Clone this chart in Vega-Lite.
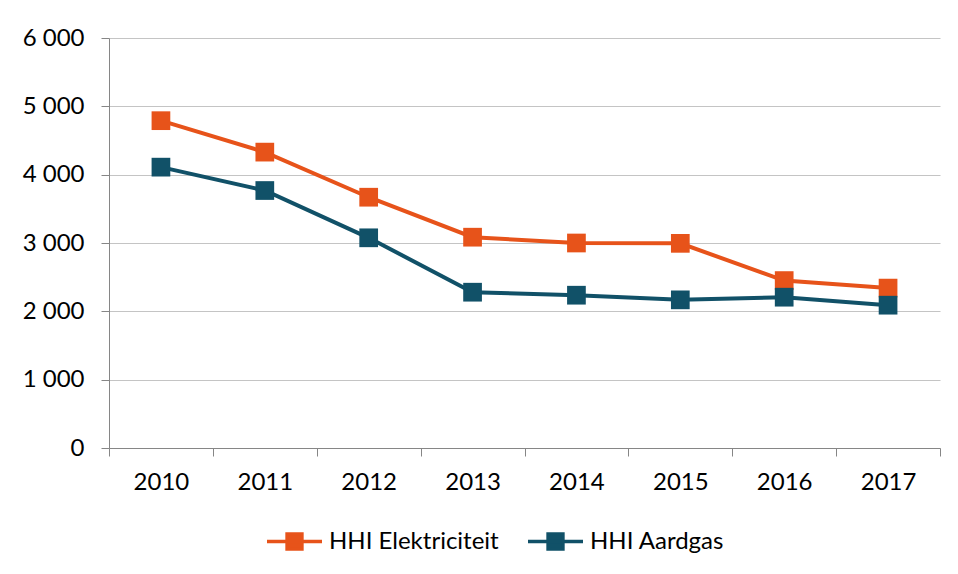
{
  "$schema": "https://vega.github.io/schema/vega-lite/v6.json",
  "autosize": {"type": "none"},
  "width": 831,
  "height": 410,
  "padding": {"left": 109, "top": 38, "right": 18, "bottom": 126},
  "background": "white",
  "config": {
    "font": "Lato",
    "view": {"stroke": null},
    "axis": {"labelFont": "Lato", "labelFontSize": 24, "labelColor": "#000000"},
    "legend": {"labelFont": "Lato", "labelFontSize": 24, "labelColor": "#000000"}
  },
  "data": {
    "values": [
      {"jaar": "2010", "reeks": "HHI Elektriciteit", "hhi": 4790},
      {"jaar": "2011", "reeks": "HHI Elektriciteit", "hhi": 4330},
      {"jaar": "2012", "reeks": "HHI Elektriciteit", "hhi": 3670},
      {"jaar": "2013", "reeks": "HHI Elektriciteit", "hhi": 3085},
      {"jaar": "2014", "reeks": "HHI Elektriciteit", "hhi": 3000},
      {"jaar": "2015", "reeks": "HHI Elektriciteit", "hhi": 2995},
      {"jaar": "2016", "reeks": "HHI Elektriciteit", "hhi": 2450},
      {"jaar": "2017", "reeks": "HHI Elektriciteit", "hhi": 2340},
      {"jaar": "2010", "reeks": "HHI Aardgas", "hhi": 4110},
      {"jaar": "2011", "reeks": "HHI Aardgas", "hhi": 3768},
      {"jaar": "2012", "reeks": "HHI Aardgas", "hhi": 3076},
      {"jaar": "2013", "reeks": "HHI Aardgas", "hhi": 2280},
      {"jaar": "2014", "reeks": "HHI Aardgas", "hhi": 2236},
      {"jaar": "2015", "reeks": "HHI Aardgas", "hhi": 2168},
      {"jaar": "2016", "reeks": "HHI Aardgas", "hhi": 2207},
      {"jaar": "2017", "reeks": "HHI Aardgas", "hhi": 2090}
    ]
  },
  "encoding": {
    "x": {
      "field": "jaar",
      "type": "ordinal",
      "scale": {"type": "band", "paddingInner": 0, "paddingOuter": 0},
      "axis": {
        "title": null,
        "labelAngle": 0,
        "tickBand": "extent",
        "domainColor": "#868686",
        "domainWidth": 1,
        "tickColor": "#868686",
        "tickSize": 8,
        "labelPadding": 14,
        "grid": false
      }
    },
    "y": {
      "field": "hhi",
      "type": "quantitative",
      "scale": {"domain": [0, 6000], "nice": false, "zero": true},
      "axis": {
        "title": null,
        "values": [0, 1000, 2000, 3000, 4000, 5000, 6000],
        "labelExpr": "replace(format(datum.value, ','), ',', ' ')",
        "grid": true,
        "gridColor": "#C4C4C4",
        "gridWidth": 1.2,
        "domainColor": "#868686",
        "tickColor": "#868686",
        "tickSize": 8,
        "labelPadding": 17
      }
    },
    "color": {
      "field": "reeks",
      "type": "nominal",
      "scale": {"domain": ["HHI Elektriciteit", "HHI Aardgas"], "range": ["#E7531A", "#115168"]},
      "legend": {
        "title": null,
        "orient": "none",
        "legendX": 156,
        "legendY": 474,
        "direction": "horizontal",
        "labelLimit": 0,
        "symbolType": "M-1,0H1M-0.27,-0.27H0.27V0.27H-0.27Z",
        "symbolSize": 3025,
        "symbolStrokeWidth": 3.5,
        "columnPadding": 22,
        "labelOffset": 5,
        "encode": {
          "symbols": {
            "update": {
              "fill": {"scale": "color", "field": "value"},
              "stroke": {"scale": "color", "field": "value"},
              "fillOpacity": {"value": 1},
              "strokeOpacity": {"value": 1}
            }
          }
        }
      }
    }
  },
  "layer": [
    {
      "mark": {"type": "line", "strokeWidth": 4},
      "encoding": {"detail": {"field": "reeks"}}
    },
    {
      "mark": {"type": "point", "shape": "square", "filled": true, "opacity": 1, "size": 350}
    }
  ]
}
